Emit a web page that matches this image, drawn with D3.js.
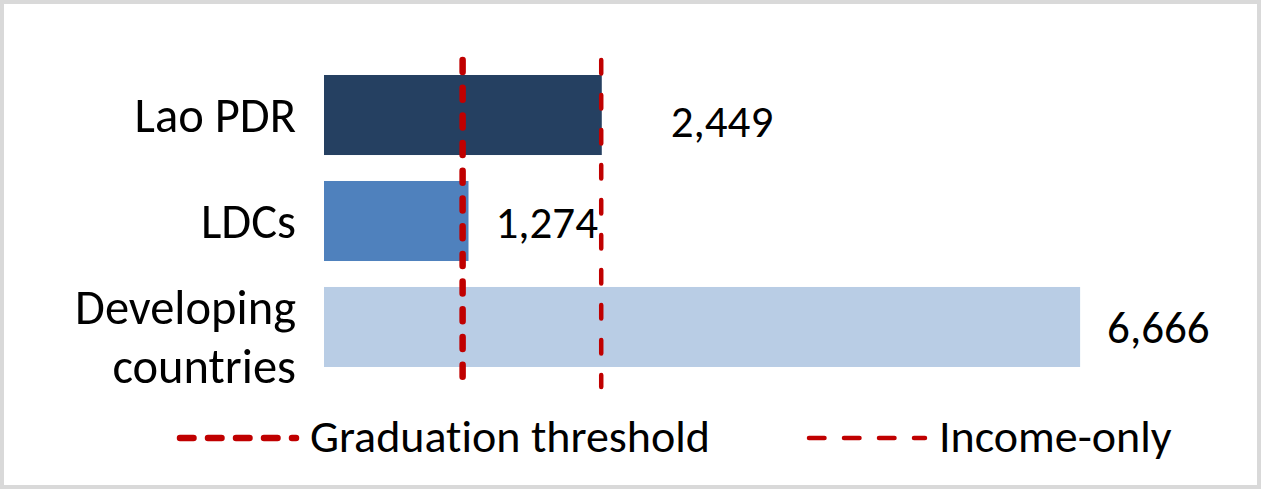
<!DOCTYPE html>
<html lang="en">
<head>
  <meta charset="utf-8">
  <title></title>
  <script src="https://d3js.org/d3.v7.min.js"></script>
  <style>
    body { margin: 0; background: #fff; }
    text { font-family: Carlito, Calibri, "Liberation Sans", sans-serif; font-size: 46px; fill: #000;
           font-variant-ligatures: none; font-feature-settings: "liga" 0; }
    .cat { font-size: 48.5px; }
    .val { font-size: 45px; }
  </style>
</head>
<body>
<script type="text/javascript">
// GNI per capita, US$
var categories = ["Lao PDR", "LDCs", "Developing countries"];
var values = [2449, 1274, 6666];
var barColors = ["#254061", "#4f81bd", "#b9cde5"];
// LDC criteria thresholds
var thresholdNames = ["Graduation threshold", "Income-only"];
var thresholdValues = [1222, 2444];

var width = 1261, height = 489;

var svg = d3.select("body").append("svg")
  .attr("width", width)
  .attr("height", height);

// chart frame
svg.append("rect")
  .attr("x", 2).attr("y", 2)
  .attr("width", width - 4).attr("height", height - 4)
  .attr("fill", "#fff")
  .attr("stroke", "#d9d9d9")
  .attr("stroke-width", 4);

var x = d3.scaleLinear()
  .domain([0, 7000])
  .range([324, 1118]);

var y = d3.scaleBand()
  .domain(categories)
  .range([62, 380])
  .paddingInner(0.245)
  .paddingOuter(0.1226);

// bars
svg.selectAll(".bar")
  .data(categories)
  .enter().append("rect")
  .attr("class", "bar")
  .attr("x", x(0))
  .attr("y", function(d) { return y(d); })
  .attr("width", function(d, i) { return x(values[i]) - x(0); })
  .attr("height", y.bandwidth())
  .attr("fill", function(d, i) { return barColors[i]; });

// category labels (wrap the long one)
var catLabels = svg.selectAll(".cat")
  .data(categories)
  .enter().append("text")
  .attr("class", "cat")
  .attr("text-anchor", "end")
  .attr("x", 296)
  .attr("y", function(d) { return y(d) + y.bandwidth() / 2; });

catLabels.each(function(d) {
  var el = d3.select(this);
  var words = d.split(" ");
  if (words.length > 1 && d.length > 10) {
    el.append("tspan").attr("x", 296).attr("dy", -3).text(words[0]);
    el.append("tspan").attr("x", 296).attr("dy", 59).text(words.slice(1).join(" "));
  } else {
    el.append("tspan").attr("x", 296).attr("dy", 17).text(d);
  }
});

// value labels; Lao label nudged off the income-only line
var nudgeX = [42, 0, 0], nudgeY = [5, 0, 0];
svg.selectAll(".val")
  .data(values)
  .enter().append("text")
  .attr("class", "val")
  .attr("x", function(d, i) { return x(d) + 27 + nudgeX[i]; })
  .attr("y", function(d, i) { return y(categories[i]) + y.bandwidth() / 2 + 16.5 + nudgeY[i]; })
  .text(function(d) { return d3.format(",")(d); });

// threshold lines
var lineStyles = [
  { w: 6.5, dash: "12,15.7", legendDash: "13.5,14.5" },
  { w: 4.5, dash: "13.5,21.5", legendDash: "15.5,19.5" }
];

svg.selectAll(".thr")
  .data(thresholdValues)
  .enter().append("line")
  .attr("class", "thr")
  .attr("x1", function(d) { return x(d); })
  .attr("x2", function(d) { return x(d); })
  .attr("y1", 60)
  .attr("y2", 387)
  .attr("stroke", "#c00000")
  .attr("stroke-width", function(d, i) { return lineStyles[i].w; })
  .attr("stroke-linecap", "round")
  .attr("stroke-dasharray", function(d, i) { return lineStyles[i].dash; });

// legend
var legendX = [177, 806];
var legend = svg.selectAll(".legend")
  .data(thresholdNames)
  .enter().append("g")
  .attr("class", "legend")
  .attr("transform", function(d, i) { return "translate(" + legendX[i] + ",438)"; });

legend.append("line")
  .attr("x1", 3).attr("x2", 119)
  .attr("stroke", "#c00000")
  .attr("stroke-width", function(d, i) { return lineStyles[i].w; })
  .attr("stroke-linecap", "round")
  .attr("stroke-dasharray", function(d, i) { return lineStyles[i].legendDash; });

legend.append("text")
  .attr("x", function(d, i) { return i == 0 ? 133 : 133; })
  .attr("y", 14)
  .text(function(d) { return d; });
</script>
</body>
</html>
